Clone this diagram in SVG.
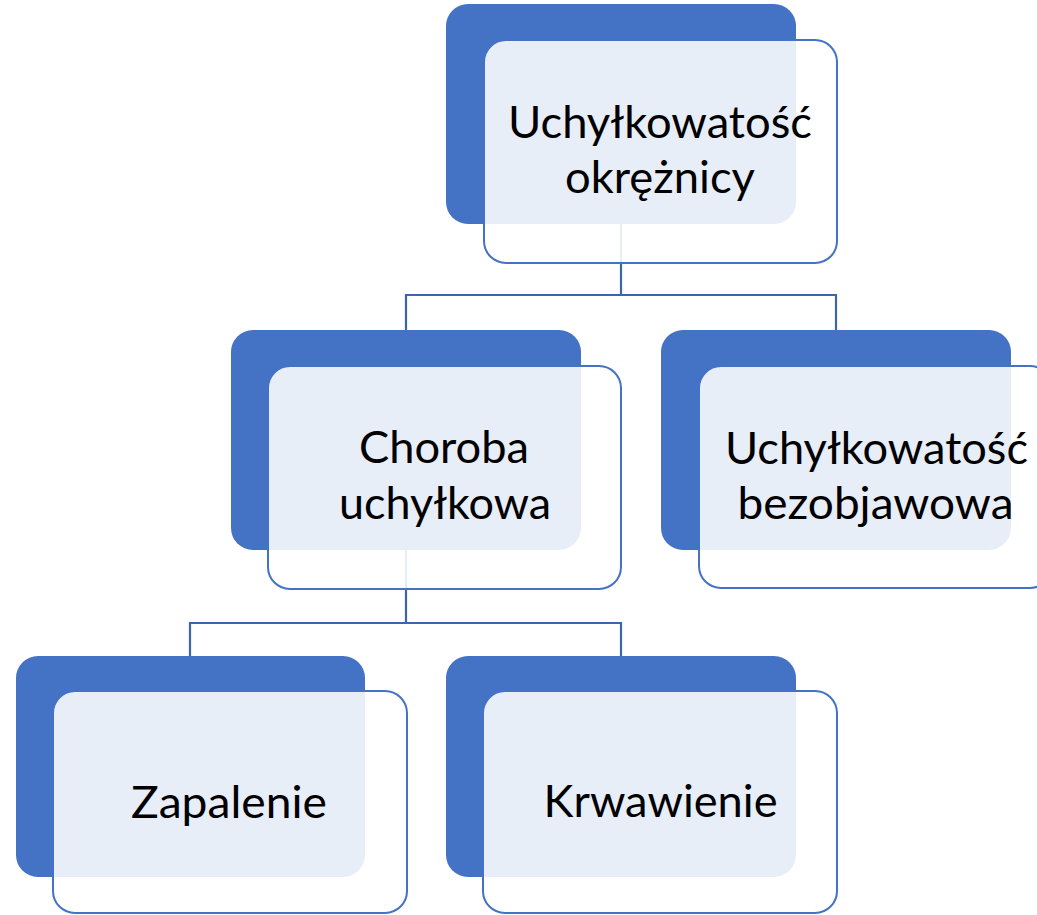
<svg xmlns="http://www.w3.org/2000/svg" width="1037" height="915" viewBox="0 0 1037 915">
<style>
.back{fill:#4472C4;}
.front{fill:#FFFFFF;fill-opacity:0.88;stroke:#4472C4;stroke-width:2;}
.conn{fill:none;stroke:#3D65AE;stroke-width:2.2;}
.lbl{font-family:Lato,"Liberation Sans",sans-serif;font-size:45px;fill:#000000;text-anchor:middle;}
</style>
<rect width="1037" height="915" fill="#FFFFFF"/>
<g id="connectors">
<path class="conn" d="M621,224 V295 M406,330 V295 H836 V330"/>
<path class="conn" d="M406,550 V623 M190,656 V623 H621 V656"/>
</g>
<g id="node-root">
<rect class="back" x="446" y="4" width="350" height="220" rx="22"/>
<rect class="front" x="484" y="40" width="353" height="223" rx="22"/>
<text class="lbl" x="660" y="138" textLength="304" lengthAdjust="spacingAndGlyphs">Uchyłkowatość</text>
<text class="lbl" x="660" y="193" textLength="190" lengthAdjust="spacingAndGlyphs">okrężnicy</text>
</g>
<g id="node-choroba">
<rect class="back" x="231" y="330" width="350" height="220" rx="22"/>
<rect class="front" x="268" y="366" width="353" height="223" rx="22"/>
<text class="lbl" x="444" y="463" textLength="170" lengthAdjust="spacingAndGlyphs">Choroba</text>
<text class="lbl" x="445" y="519" textLength="212" lengthAdjust="spacingAndGlyphs">uchyłkowa</text>
</g>
<g id="node-bezobjawowa">
<rect class="back" x="661" y="330" width="350" height="220" rx="22"/>
<rect class="front" x="699" y="366" width="353" height="222" rx="22"/>
<text class="lbl" x="876.5" y="464" textLength="303" lengthAdjust="spacingAndGlyphs">Uchyłkowatość</text>
<text class="lbl" x="875.5" y="519" textLength="276" lengthAdjust="spacingAndGlyphs">bezobjawowa</text>
</g>
<g id="node-zapalenie">
<rect class="back" x="16" y="656" width="349" height="221" rx="22"/>
<rect class="front" x="53" y="691" width="354" height="222" rx="22"/>
<text class="lbl" x="229" y="818" textLength="196" lengthAdjust="spacingAndGlyphs">Zapalenie</text>
</g>
<g id="node-krwawienie">
<rect class="back" x="446" y="656" width="350" height="221" rx="22"/>
<rect class="front" x="483" y="691" width="354" height="222" rx="22"/>
<text class="lbl" x="660.5" y="817" textLength="234" lengthAdjust="spacingAndGlyphs">Krwawienie</text>
</g>
</svg>
